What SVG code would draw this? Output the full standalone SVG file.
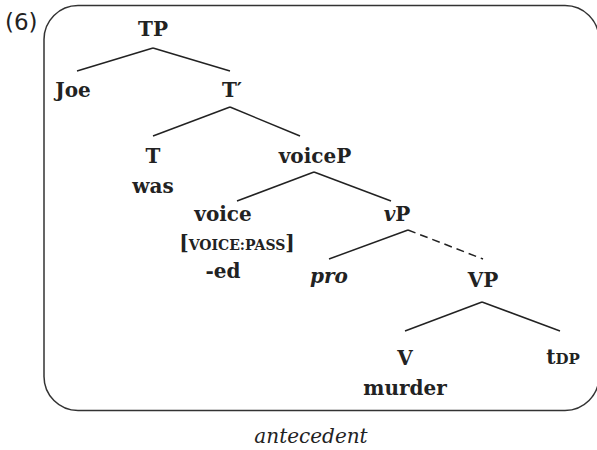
<svg xmlns="http://www.w3.org/2000/svg" width="597" height="450" viewBox="0 0 597 450">
  <style>
    .lbl { font-family: "DejaVu Serif", serif; font-weight: bold; font-size: 20px; fill: #222; text-anchor: middle; }
    .sc { font-size: 14px; }
    .it { font-style: italic; }
    .edge { stroke: #222; stroke-width: 1.5; fill: none; }
    .dash { stroke-dasharray: 8 5; }
    .frame { stroke: #333; stroke-width: 1.5; fill: none; }
  </style>
  <rect width="597" height="450" fill="#fff"/>
  <text x="5" y="30" font-family="DejaVu Sans, sans-serif" font-size="23" fill="#222">(6)</text>
  <rect class="frame" x="44" y="5.5" width="555" height="405" rx="34" ry="34"/>

  <g id="connectors">
    <line class="edge" x1="153" y1="48" x2="77" y2="71"/>
    <line class="edge" x1="153" y1="48" x2="230" y2="71"/>
    <line class="edge" x1="230" y1="107" x2="153" y2="136"/>
    <line class="edge" x1="230" y1="107" x2="300" y2="136"/>
    <line class="edge" x1="314" y1="172" x2="237" y2="201"/>
    <line class="edge" x1="314" y1="172" x2="391" y2="201"/>
    <line class="edge" x1="408" y1="230" x2="329" y2="259"/>
    <line class="edge dash" x1="408" y1="230" x2="483" y2="259"/>
    <line class="edge" x1="482" y1="302" x2="405" y2="331"/>
    <line class="edge" x1="482" y1="302" x2="560" y2="331"/>
  </g>

  <g id="TP"><text class="lbl" x="153" y="36">TP</text></g>
  <g id="Joe"><text class="lbl" x="73" y="97">Joe</text></g>
  <g id="Tbar"><text class="lbl" x="232" y="97">T′</text></g>
  <g id="T"><text class="lbl" x="153" y="163">T</text><text class="lbl" x="153" y="193">was</text></g>
  <g id="voiceP"><text class="lbl" x="315" y="163">voiceP</text></g>
  <g id="voice">
    <text class="lbl" x="223" y="221">voice</text>
    <text class="lbl" x="237" y="250">[<tspan class="sc">VOICE:PASS</tspan>]</text>
    <text class="lbl" x="223" y="278">-ed</text>
  </g>
  <g id="vP"><text class="lbl" x="397" y="221"><tspan class="it">v</tspan>P</text></g>
  <g id="pro"><text class="lbl it" x="329" y="283">pro</text></g>
  <g id="VP"><text class="lbl" x="483" y="287">VP</text></g>
  <g id="V"><text class="lbl" x="405" y="365">V</text><text class="lbl" x="405" y="395">murder</text></g>
  <g id="tDP"><text class="lbl" x="563" y="364">t<tspan style="font-size:15px">DP</tspan></text></g>

  <text x="311" y="443" font-family="DejaVu Serif, serif" font-style="italic" font-size="20" fill="#222" text-anchor="middle">antecedent</text>
</svg>
